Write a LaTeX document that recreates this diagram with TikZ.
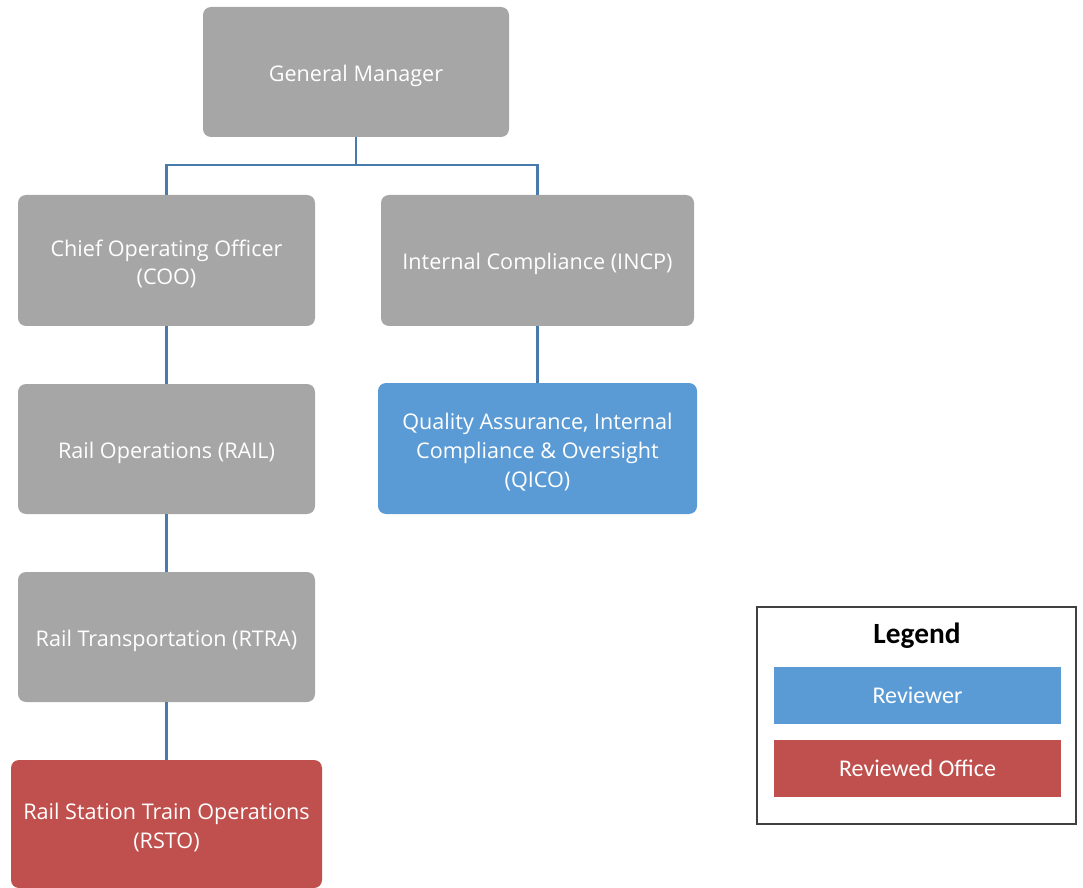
\documentclass[tikz,border=0pt]{standalone}
\usepackage{fontspec}
\setmainfont{Open Sans}
\newfontfamily\legendfont{Carlito}
\definecolor{boxgray}{HTML}{A6A6A6}
\definecolor{boxblue}{HTML}{5B9BD5}
\definecolor{boxred}{HTML}{C0504D}
\definecolor{linkblue}{HTML}{477BAE}
\definecolor{legendedge}{HTML}{404040}
\tikzset{
  orgbox/.style={rectangle, rounded corners=6pt, fill=boxgray, inner sep=0pt},
  orgtext/.style={text=white, align=center, font=\fontsize{16.2}{21.5}\selectfont,
    inner sep=0pt, yshift=-2.6pt},
  link/.style={draw=linkblue, line width=2pt},
  legbox/.style={rectangle, text=white, font=\legendfont\fontsize{18}{21}\selectfont,
    minimum width=287*0.75pt, minimum height=57*0.75pt, inner sep=0pt},
}
\begin{document}
\begin{tikzpicture}[x=0.75pt,y=-0.75pt]
\useasboundingbox (0,0) rectangle (1083,888);
\begin{scope}
\clip (0,0) rectangle (1083,888);
\node[orgbox, minimum width=306*0.75pt, minimum height=130*0.75pt,
  label={[orgtext]center:General Manager}] (gm) at (356,72) {};
\node[orgbox, minimum width=297*0.75pt, minimum height=131*0.75pt,
  label={[orgtext]center:Chief Operating Officer\\(COO)}] (coo) at (166.5,260.5) {};
\node[orgbox, minimum width=313*0.75pt, minimum height=131*0.75pt,
  label={[orgtext]center:Internal Compliance (INCP)}] (incp) at (537.5,260.5) {};
\node[orgbox, minimum width=297*0.75pt, minimum height=130*0.75pt,
  label={[orgtext]center:Rail Operations (RAIL)}] (rail) at (166.5,449) {};
\node[orgbox, fill=boxblue, minimum width=319*0.75pt, minimum height=131*0.75pt,
  label={[orgtext]center:Quality Assurance, Internal\\Compliance \& Oversight\\(QICO)}] (qico) at (537.5,448.5) {};
\node[orgbox, minimum width=297*0.75pt, minimum height=130*0.75pt,
  label={[orgtext]center:Rail Transportation (RTRA)}] (rtra) at (166.5,637) {};
\node[orgbox, fill=boxred, minimum width=311*0.75pt, minimum height=128*0.75pt,
  label={[orgtext]center:Rail Station Train Operations\\(RSTO)}] (rsto) at (166.5,824) {};
\end{scope}
\coordinate (jn) at (356,165);
\draw[link] (gm.south) -- (jn);
\draw[link] (coo.north) |- (jn) -| (incp.north);
\draw[link] (coo.south) -- (rail.north);
\draw[link] (rail.south) -- (rtra.north);
\draw[link] (rtra.south) -- (rsto.north);
\draw[link] (incp.south) -- (qico.north);
\node[draw=legendedge, line width=1.5pt, rectangle, minimum width=319*0.75pt, minimum height=217*0.75pt, inner sep=0pt] (legend) at (916.5,715.5) {};
\node[font=\legendfont\bfseries\fontsize{22}{25}\selectfont] (legtitle) at (917,636) {Legend};
\node[legbox, fill=boxblue] (rev) at (917.5,695.5) {Reviewer};
\node[legbox, fill=boxred] (revd) at (917.5,768.5) {Reviewed Office};
\end{tikzpicture}
\end{document}
